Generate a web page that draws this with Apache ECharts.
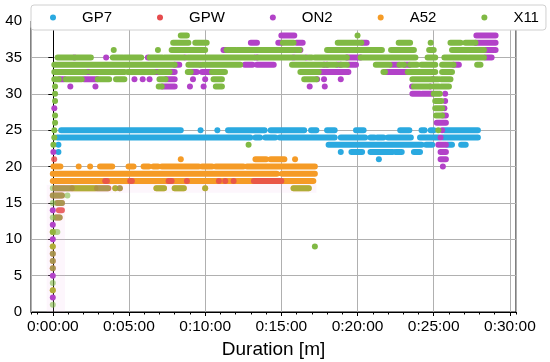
<!DOCTYPE html>
<html><head><meta charset="utf-8">
<script src="https://cdn.jsdelivr.net/npm/echarts@6/dist/echarts.min.js"></script>
<style>html,body{margin:0;padding:0;background:#fff}#c{width:550px;height:362px}</style>
</head><body><div id="c"></div>
<script>
// ---------- data (minutes on x, value on y) ----------
const seriesNames = ['GP7', 'GPW', 'ON2', 'A52', 'X11'];
const xTickMinutes = [0, 5, 10, 15, 20, 25, 30];
const yTicks = [0, 5, 10, 15, 20, 25, 30, 35, 40];

// runs of consecutive samples: [y, startMin, endMin]
const gp7Runs = [
  [25, 0.55, 8.4], [25, 11.5, 13.9], [25, 14.3, 16.5], [25, 16.95, 17.3], [25, 18.0, 18.5], [25, 19.9, 20.4],
  [25, 22.8, 23.4], [25, 24.2, 24.4], [25, 24.8, 25.0], [25, 25.7, 27.9],
  [24, 0.3, 12.96], [24, 13.3, 13.6], [24, 13.95, 14.6], [24, 14.9, 18.5], [24, 18.9, 20.5], [24, 20.85, 21.1],
  [24, 21.3, 21.7], [24, 22.0, 23.5], [24, 24.1, 25.3], [24, 25.6, 27.9],
  [23, 18.1, 21.6], [23, 21.7, 24.2], [23, 24.5, 24.9], [23, 25.9, 26.2], [23, 26.8, 27.1],
  [22, 19.6, 20.3], [22, 20.85, 22.3], [22, 22.5, 22.9], [22, 23.7, 24.1]
];
const gp7Dots = [[9.7, 25], [10.8, 25], [0.37, 23], [0.37, 22], [18.9, 22], [21.4, 21]];

const gpwRuns = [
  [18, 13.2, 15.0], [18, 7.6, 7.8], [18, 3.44, 3.55], [18, 5.08, 5.19],
  [17, 0.15, 1.25], [17, 2.9, 3.65],
  [16, 0.0, 0.6], [15, 0.3, 0.6], [14, 0.4, 0.6], [13, 0.2, 0.45]
];
const gpwDots = [[8.8, 18], [10.9, 18], [11.32, 18], [11.87, 18], [0.09, 21], [0, 6], [0, 7], [0, 8], [4.4, 17]];

const on2Runs = [
  [38, 15.0, 15.85], [38, 27.8, 29.06],
  [37, 13.0, 13.4], [37, 14.8, 15.0], [37, 16.0, 16.4], [37, 20.3, 20.6], [37, 27.75, 29.06],
  [36, 11.2, 11.35], [36, 15.8, 16.0], [36, 28.4, 29.06],
  [35, 13.3, 13.4], [35, 19.3, 20.2], [35, 28.4, 28.8],
  [34, 8.0, 8.3], [34, 12.6, 13.1], [34, 13.4, 14.5], [34, 17.8, 18.0], [34, 18.66, 18.9], [34, 19.4, 19.9],
  [34, 22.2, 22.7], [34, 23.1, 23.4], [34, 26.3, 26.65],
  [33, 2.2, 2.45], [33, 6.7, 6.9], [33, 7.7, 8.0], [33, 9.1, 9.45], [33, 9.8, 10.4], [33, 17.5, 19.4], [33, 21.8, 23.25],
  [32, 0.45, 0.75], [32, 2.05, 2.9], [32, 7.45, 8.0],
  [31, 7.2, 8.0],
  [30, 23.6, 24.1], [30, 24.25, 24.9],
  [27, 25.6, 25.8], [26, 25.2, 25.8], [23, 25.3, 25.8], [22, 25.45, 25.8], [21, 25.45, 25.8]
];
const on2Dots = [
  [16.25, 36], [1.42, 35], [3.5, 35], [6.24, 35], [8.7, 35], [15.8, 35], [16.65, 35], [9.7, 34],
  [5.36, 32], [5.9, 32], [6.35, 32], [9.2, 32], [10.0, 32], [17.35, 32], [17.8, 32], [18.9, 32], [24.95, 32],
  [1.15, 31], [2.8, 31], [9.0, 31], [9.9, 31], [16.86, 31], [17.85, 31], [23.58, 31], [24.8, 31],
  [25.75, 30], [25.75, 29], [25.7, 28], [0.1, 28], [25.55, 25], [25.45, 24], [0.04, 22], [25.6, 20],
  [0, 2], [0, 5], [0, 10], [0, 12], [0, 14]
];

const a52Runs = [
  [21, 13.3, 14.0], [21, 14.3, 15.2],
  [20, 0.04, 0.5], [20, 3.1, 3.9], [20, 4.97, 5.3], [20, 5.96, 6.3], [20, 6.6, 6.9], [20, 7.16, 9.57],
  [20, 9.8, 10.45], [20, 10.7, 12.5], [20, 12.75, 17.2],
  [19, 0.0, 14.7], [19, 15.05, 17.2],
  [18, 0.0, 17.1],
  [17, 1.3, 2.8], [17, 6.8, 7.3], [17, 8.0, 8.6], [17, 15.8, 16.8]
];
const a52Dots = [[8.4, 21], [15.9, 21], [1.7, 20], [2.45, 20], [4.1, 17], [10.0, 17], [0, 3], [0, 9], [0, 11]];

const x11Runs = [
  [38, 8.4, 8.8],
  [37, 7.9, 8.9], [37, 9.35, 10.1], [37, 15.1, 15.8], [37, 18.7, 20.25], [37, 22.7, 23.45], [37, 26.1, 26.76], [37, 27.08, 27.74],
  [36, 7.8, 10.0], [36, 11.4, 12.0], [36, 12.1, 15.8], [36, 16.0, 16.2], [36, 18.0, 21.6], [36, 22.2, 23.7], [36, 24.7, 25.0], [36, 26.2, 28.3],
  [35, 0.32, 1.35], [35, 1.5, 2.5], [35, 3.94, 4.6], [35, 4.7, 5.8], [35, 6.35, 7.2], [35, 7.33, 8.6], [35, 8.86, 13.2],
  [35, 13.45, 15.7], [35, 15.9, 16.55], [35, 16.8, 17.0], [35, 17.2, 19.3], [35, 20.2, 23.8], [35, 24.6, 25.1], [35, 25.7, 27.2], [35, 27.3, 28.3],
  [34, 0.1, 8.0], [34, 8.9, 9.6], [34, 9.8, 12.3], [34, 15.7, 17.8], [34, 18.0, 18.6], [34, 18.9, 19.3], [34, 21.2, 22.1],
  [34, 22.75, 23.05], [34, 23.45, 23.9], [34, 24.2, 25.1], [34, 25.55, 26.3], [34, 27.85, 28.07],
  [33, 0.1, 2.15], [33, 2.5, 4.7], [33, 4.92, 6.65], [33, 7.0, 7.66], [33, 8.86, 9.05], [33, 10.45, 11.3], [33, 16.25, 17.45],
  [33, 21.7, 21.8], [33, 23.3, 25.1], [33, 25.55, 26.2],
  [32, 0.1, 0.4], [32, 0.85, 1.9], [32, 2.95, 3.7], [32, 4.15, 4.7], [32, 7.0, 7.4], [32, 10.55, 11.1], [32, 16.5, 17.3],
  [32, 23.6, 24.9], [32, 25.0, 25.3], [32, 25.5, 26.1],
  [31, 6.95, 7.15], [31, 10.7, 11.1], [31, 23.7, 24.75], [31, 25.0, 25.35], [31, 25.5, 26.0],
  [30, 25.0, 25.4], [29, 25.1, 25.5], [28, 25.1, 25.55], [27, 25.15, 25.55]
];
const x11Dots = [
  [20.0, 38], [24.8, 37], [4.0, 36], [6.9, 36], [0.15, 31], [0.15, 30], [0.15, 29], [0.15, 27], [0.15, 26],
  [0.1, 25], [25.3, 25], [0.1, 24], [0.04, 23], [12.85, 23], [17.2, 9]
];
// X11 samples overlapping other devices near the start (blended)
const x11MixRuns = [[17, 0.0, 3.6], [17, 6.8, 7.3], [17, 8.0, 8.6], [17, 15.8, 16.8], [16, 0.0, 0.6], [15, 0.3, 0.6], [13, 0.2, 0.45], [11, 0.0, 0.3]];
const x11MixDots = [[4.1, 17], [4.4, 17], [10.0, 17], [0.96, 16], [0, 1], [0, 3], [0, 4], [0, 6], [0, 7], [0, 8], [0, 9], [0, 11], [0, 13], [0, 15]];

// ---------- chart ----------
const FONT = 'Liberation Sans, Arial, sans-serif';
const colors = { GP7: '#2aa9e0', GPW: '#e64b4d', ON2: '#b242c8', A52: '#f59b26', X11: '#80b944' };
const X_MIN = -1.43, X_MAX = 30.4;

function runsToLine(runs) {
  const out = [];
  runs.forEach(function (r) { out.push([r[1], r[0]], [r[2], r[0]], [r[2], '-']); });
  return out;
}
function pad2(n) { return (n < 10 ? '0' : '') + n; }

const groups = [
  { name: 'GP7', runs: gp7Runs, dots: gp7Dots, z: 2, op: 1 },
  { name: 'A52', runs: a52Runs, dots: a52Dots, z: 3, op: 1 },
  { name: 'GPW', runs: gpwRuns, dots: gpwDots, z: 4, op: 0.85 },
  { name: 'ON2', runs: on2Runs, dots: on2Dots, z: 5, op: 1 },
  { name: 'X11', runs: x11Runs, dots: x11Dots, z: 6, op: 1 },
  { name: 'X11', runs: x11MixRuns, dots: x11MixDots, z: 7, op: 0.6 }
];

const series = [];
groups.forEach(function (g) {
  const c = colors[g.name];
  series.push({
    type: 'line', name: g.name, data: runsToLine(g.runs), z: g.z,
    symbol: 'none', showSymbol: false, connectNulls: false, silent: true,
    lineStyle: { color: c, width: 6, cap: 'round', opacity: g.op },
    itemStyle: { color: c }, emphasis: { disabled: true }
  });
  series.push({
    type: 'scatter', name: g.name, data: g.dots, z: g.z, symbolSize: 6, silent: true,
    itemStyle: { color: c, opacity: g.op }, emphasis: { disabled: true }
  });
});
// faint pink haze near the start
series[0].markArea = {
  silent: true,
  itemStyle: { color: 'rgba(242,185,232,0.12)' },
  data: [
    [{ xAxis: -0.4, yAxis: 0 }, { xAxis: 0.8, yAxis: 17.5 }],
    [{ xAxis: 0, yAxis: 16.4 }, { xAxis: 17.3, yAxis: 17.6 }]
  ]
};

const chart = echarts.init(document.getElementById('c'), null, { renderer: 'canvas' });
chart.setOption({
  animation: false,
  backgroundColor: '#fff',
  textStyle: { fontFamily: FONT },
  grid: { left: 31, right: 34, top: 21, bottom: 50, containLabel: false, outerBoundsMode: 'none',
          show: true, borderColor: '#000', borderWidth: 1 },
  legend: {
    data: seriesNames, left: 31, top: 5, z: 20, icon: 'circle', itemWidth: 6, itemHeight: 6, itemGap: 45,
    padding: [5, 7, 5, 19], backgroundColor: '#fff', borderColor: '#d0d0d0', borderWidth: 1, borderRadius: 3,
    selectedMode: false,
    textStyle: { fontSize: 15, color: '#000', fontFamily: FONT, padding: [0, 0, 0, 21] }
  },
  xAxis: [{
    type: 'value', min: X_MIN, max: X_MAX, minInterval: 5, maxInterval: 5,
    name: 'Duration [m]', nameLocation: 'middle', nameGap: 26,
    nameTextStyle: { fontSize: 19, color: '#000', fontFamily: FONT },
    axisLine: { show: true, onZero: false, lineStyle: { color: '#000', width: 1 } },
    axisTick: { show: true, length: 4, lineStyle: { color: '#000' } },
    axisLabel: {
      color: '#000', fontSize: 15.5, margin: 7, fontFamily: FONT, showMinLabel: false, showMaxLabel: false,
      formatter: function (v) { return xTickMinutes.indexOf(v) >= 0 ? '0:' + pad2(v) + ':00' : ''; }
    },
    splitLine: { show: true, lineStyle: { color: '#b0b0b0', width: 1 } }
  }, {
    type: 'value', min: X_MIN, max: X_MAX, minInterval: 1, maxInterval: 1, position: 'bottom', gridIndex: 0,
    axisLine: { show: false }, axisLabel: { show: false }, splitLine: { show: false },
    axisTick: { show: true, length: 2.5, lineStyle: { color: '#000' } }
  }],
  yAxis: {
    type: 'value', min: yTicks[0], max: yTicks[yTicks.length - 1], interval: 5,
    axisLine: { show: true, lineStyle: { color: '#000', width: 1 } },
    axisTick: { show: true, length: 4.5, lineStyle: { color: '#000' } },
    axisLabel: { color: '#000', fontSize: 15, margin: 9, fontFamily: FONT },
    splitLine: { show: true, lineStyle: { color: '#b0b0b0', width: 1 } }
  },
  series: series
});
</script></body></html>
